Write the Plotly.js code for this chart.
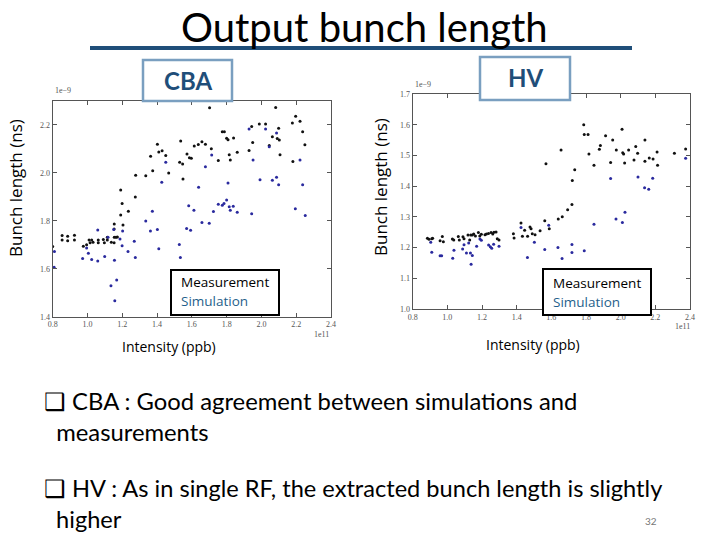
<!DOCTYPE html>
<html>
<head>
<meta charset="utf-8">
<script src="https://cdn.plot.ly/plotly-3.0.1.min.js"></script>
<style>html,body{margin:0;padding:0;background:#fff;}#chart{width:720px;height:540px;}</style>
</head>
<body>
<div id="chart"></div>
<script>
// CBA — intensity (1e11 ppb) and bunch length (1e-9 s)
const cbaMeasX = [0.80,0.854,0.854,0.886,0.886,0.925,0.925,0.976,0.995,1.009,1.015,1.024,1.032,1.062,1.062,1.091,1.097,1.114,1.114,1.137,1.153,1.153,1.154,1.154,1.164,1.172,1.191,1.191,1.199,1.204,1.235,1.275,1.277,1.335,1.363,1.375,1.402,1.410,1.429,1.450,1.467,1.530,1.536,1.547,1.549,1.572,1.586,1.597,1.614,1.637,1.658,1.678,1.702,1.712,1.752,1.775,1.787,1.800,1.808,1.815,1.821,1.840,1.861,1.929,1.944,1.950,1.988,2.024,2.045,2.063,2.082,2.091,2.099,2.103,2.107,2.178,2.181,2.197,2.222,2.237,2.250];
const cbaMeasY = [1.693,1.738,1.720,1.735,1.717,1.739,1.720,1.694,1.700,1.720,1.708,1.720,1.710,1.720,1.708,1.722,1.708,1.731,1.720,1.710,1.708,1.765,1.786,1.731,1.731,1.732,1.824,1.928,1.872,1.782,1.839,1.899,1.989,1.987,2.069,2.008,2.119,2.086,2.092,2.072,1.999,2.044,2.132,2.036,1.974,2.078,2.062,2.060,2.111,2.118,2.129,2.119,2.271,2.100,2.051,2.171,2.171,2.144,2.137,2.075,2.053,2.145,2.085,2.093,2.193,2.126,2.203,2.203,2.113,2.150,2.272,2.143,2.185,2.136,2.075,2.207,2.047,2.235,2.214,2.171,2.117];
const cbaSimX = [0.81,0.808,0.972,0.995,1.005,1.024,1.059,1.059,1.099,1.118,1.135,1.151,1.155,1.157,1.168,1.187,1.199,1.202,1.233,1.269,1.275,1.335,1.362,1.373,1.402,1.410,1.427,1.450,1.528,1.534,1.570,1.582,1.593,1.612,1.639,1.658,1.678,1.700,1.714,1.724,1.752,1.775,1.785,1.800,1.808,1.815,1.821,1.838,1.861,1.929,1.944,1.952,1.992,2.024,2.045,2.063,2.087,2.087,2.099,2.195,2.222,2.237,2.252];
const cbaSimY = [1.672,1.606,1.643,1.686,1.664,1.638,1.761,1.632,1.651,1.731,1.529,1.763,1.635,1.467,1.553,1.724,1.696,1.757,1.672,1.714,1.647,1.799,1.757,1.839,1.763,1.683,1.960,2.044,1.701,1.647,1.768,1.862,1.760,1.844,1.939,1.793,2.025,1.789,2.074,1.838,1.869,1.864,1.872,1.886,1.957,1.858,1.844,1.860,1.835,2.182,1.829,2.053,1.971,2.182,2.108,1.969,2.165,1.981,1.950,1.850,2.053,1.950,1.822];

// HV
const hvMeasX = [0.885,0.894,0.910,0.915,0.958,0.971,0.977,1.029,1.037,1.063,1.069,1.090,1.096,1.119,1.129,1.135,1.144,1.152,1.162,1.179,1.187,1.196,1.217,1.225,1.237,1.252,1.262,1.269,1.281,1.288,1.298,1.381,1.385,1.425,1.433,1.446,1.463,1.477,1.483,1.490,1.506,1.535,1.562,1.569,1.588,1.640,1.656,1.663,1.694,1.719,1.721,1.735,1.787,1.790,1.812,1.817,1.846,1.877,1.883,1.913,1.942,1.954,1.975,2.008,2.012,2.017,2.023,2.046,2.077,2.087,2.098,2.140,2.140,2.165,2.187,2.210,2.213,2.310,2.375];
const hvMeasY = [1.230,1.227,1.229,1.230,1.222,1.236,1.219,1.228,1.225,1.236,1.225,1.235,1.229,1.241,1.225,1.241,1.241,1.244,1.238,1.249,1.238,1.243,1.242,1.244,1.246,1.249,1.244,1.250,1.251,1.229,1.225,1.245,1.231,1.280,1.237,1.256,1.237,1.267,1.261,1.245,1.242,1.255,1.287,1.473,1.261,1.293,1.518,1.300,1.323,1.340,1.418,1.453,1.600,1.568,1.568,1.505,1.468,1.520,1.532,1.564,1.477,1.550,1.518,1.585,1.509,1.505,1.475,1.518,1.485,1.529,1.507,1.550,1.481,1.492,1.488,1.511,1.468,1.507,1.521];
const hvSimX = [0.904,0.910,0.958,0.967,1.031,1.038,1.088,1.096,1.110,1.123,1.133,1.137,1.144,1.169,1.188,1.196,1.238,1.248,1.256,1.267,1.298,1.425,1.462,1.502,1.562,1.585,1.638,1.662,1.719,1.719,1.790,1.846,1.942,1.973,2.010,2.025,2.100,2.138,2.162,2.185,2.375];
const hvSimY = [1.217,1.185,1.173,1.173,1.165,1.191,1.195,1.209,1.182,1.215,1.182,1.146,1.174,1.204,1.228,1.224,1.208,1.203,1.198,1.211,1.204,1.265,1.168,1.217,1.194,1.273,1.200,1.164,1.210,1.184,1.190,1.276,1.425,1.293,1.282,1.315,1.430,1.395,1.390,1.426,1.491];

const xTickVals = [0.8,1.0,1.2,1.4,1.6,1.8,2.0,2.2,2.4];
const cbaYTicks = [1.4,1.6,1.8,2.0,2.2];
const hvYTicks = [1.0,1.1,1.2,1.3,1.4,1.5,1.6,1.7];

const measColor = '#111111';
const simColor = '#2a2a9e';
const mk = c => ({color: c, size: 3, symbol: 'circle'});

const traces = [
  {x: cbaMeasX, y: cbaMeasY, type: 'scatter', mode: 'markers', marker: mk(measColor), xaxis: 'x', yaxis: 'y', name: 'Measurement'},
  {x: cbaSimX, y: cbaSimY, type: 'scatter', mode: 'markers', marker: mk(simColor), xaxis: 'x', yaxis: 'y', name: 'Simulation'},
  {x: hvMeasX, y: hvMeasY, type: 'scatter', mode: 'markers', marker: mk(measColor), xaxis: 'x2', yaxis: 'y2', name: 'Measurement'},
  {x: hvSimX, y: hvSimY, type: 'scatter', mode: 'markers', marker: mk(simColor), xaxis: 'x2', yaxis: 'y2', name: 'Simulation'}
];

const tickFont = {family: 'Liberation Serif, DejaVu Serif, serif', size: 8, color: '#555'};
const axBase = {
  showline: true, linecolor: '#555', linewidth: 1, mirror: 'ticks', ticks: 'inside', ticklen: 4,
  tickcolor: '#555', showgrid: false, zeroline: false, tickfont: tickFont, tickformat: '.1f'
};

const bodyFont = 'Lato, Open Sans, Noto Sans, sans-serif';
const labelFont = 'Open Sans, sans-serif';
const darkBlue = '#1f4e79';

const layout = {
  width: 720, height: 540, showlegend: false,
  margin: {l: 0, r: 0, t: 0, b: 0},
  paper_bgcolor: '#fff', plot_bgcolor: '#fff',
  xaxis: Object.assign({}, axBase, {domain: [0.0732, 0.4597], range: [0.8, 2.4], tickvals: xTickVals, anchor: 'y'}),
  yaxis: Object.assign({}, axBase, {domain: [0.4135, 0.8135], range: [1.4, 2.3], tickvals: cbaYTicks, anchor: 'x'}),
  xaxis2: Object.assign({}, axBase, {domain: [0.5732, 0.9583], range: [0.8, 2.4], tickvals: xTickVals, anchor: 'y2'}),
  yaxis2: Object.assign({}, axBase, {domain: [0.4278, 0.8259], range: [1.0, 1.7], tickvals: hvYTicks, anchor: 'x2'}),
  shapes: [
    {type: 'line', xref: 'paper', yref: 'paper', x0: 90/720, x1: 632/720, y0: 1-48/540, y1: 1-48/540, line: {color: darkBlue, width: 4}},
    {type: 'rect', xref: 'paper', yref: 'paper', x0: 143/720, x1: 232/720, y0: 1-101/540, y1: 1-60/540, line: {color: '#7a9fc0', width: 2.5}, fillcolor: '#fff', layer: 'above'},
    {type: 'rect', xref: 'paper', yref: 'paper', x0: 480/720, x1: 570/720, y0: 1-100/540, y1: 1-57/540, line: {color: '#7a9fc0', width: 2.5}, fillcolor: '#fff', layer: 'above'},
    {type: 'rect', xref: 'paper', yref: 'paper', x0: 171/720, x1: 279/720, y0: 1-315/540, y1: 1-270/540, line: {color: '#000', width: 2}, fillcolor: '#fff', layer: 'above'},
    {type: 'rect', xref: 'paper', yref: 'paper', x0: 543/720, x1: 651/720, y0: 1-315/540, y1: 1-269/540, line: {color: '#000', width: 2}, fillcolor: '#fff', layer: 'above'}
  ],
  annotations: [
    {text: 'Output bunch length', xref: 'paper', yref: 'paper', x: 364/720, y: 1-27/540, showarrow: false, xanchor: 'center', yanchor: 'middle', font: {family: bodyFont, size: 40, color: '#000'}},
    {text: '<b>CBA</b>', xref: 'paper', yref: 'paper', x: 188/720, y: 1-80/540, showarrow: false, xanchor: 'center', yanchor: 'middle', font: {family: bodyFont, size: 24, color: darkBlue}},
    {text: '<b>HV</b>', xref: 'paper', yref: 'paper', x: 525/720, y: 1-78/540, showarrow: false, xanchor: 'center', yanchor: 'middle', font: {family: bodyFont, size: 24, color: darkBlue}},
    {text: 'Bunch length (ns)', xref: 'paper', yref: 'paper', x: 16/720, y: 1-188/540, showarrow: false, textangle: -90, xanchor: 'center', yanchor: 'middle', font: {family: labelFont, size: 17, color: '#000'}},
    {text: 'Bunch length (ns)', xref: 'paper', yref: 'paper', x: 380/720, y: 1-187/540, showarrow: false, textangle: -90, xanchor: 'center', yanchor: 'middle', font: {family: labelFont, size: 17, color: '#000'}},
    {text: 'Intensity (ppb)', xref: 'paper', yref: 'paper', x: 169/720, y: 1-346/540, showarrow: false, xanchor: 'center', yanchor: 'middle', font: {family: labelFont, size: 14, color: '#000'}},
    {text: 'Intensity (ppb)', xref: 'paper', yref: 'paper', x: 533/720, y: 1-344/540, showarrow: false, xanchor: 'center', yanchor: 'middle', font: {family: labelFont, size: 14, color: '#000'}},
    {text: 'Measurement', xref: 'paper', yref: 'paper', x: 225/720, y: 1-282/540, showarrow: false, xanchor: 'center', yanchor: 'middle', font: {family: labelFont, size: 13.5, color: '#000'}},
    {text: 'Simulation', xref: 'paper', yref: 'paper', x: 179/720, y: 1-301/540, showarrow: false, xanchor: 'left', yanchor: 'middle', font: {family: labelFont, size: 13.5, color: '#1f5f8b'}},
    {text: 'Measurement', xref: 'paper', yref: 'paper', x: 597/720, y: 1-283/540, showarrow: false, xanchor: 'center', yanchor: 'middle', font: {family: labelFont, size: 13.5, color: '#000'}},
    {text: 'Simulation', xref: 'paper', yref: 'paper', x: 551/720, y: 1-302/540, showarrow: false, xanchor: 'left', yanchor: 'middle', font: {family: labelFont, size: 13.5, color: '#1f5f8b'}},
    {text: '1e\u22129', xref: 'paper', yref: 'paper', x: 53/720, y: 1-97/540, showarrow: false, xanchor: 'left', yanchor: 'bottom', font: tickFont},
    {text: '1e\u22129', xref: 'paper', yref: 'paper', x: 413/720, y: 1-91/540, showarrow: false, xanchor: 'left', yanchor: 'bottom', font: tickFont},
    {text: '1e11', xref: 'paper', yref: 'paper', x: 331/720, y: 1-328/540, showarrow: false, xanchor: 'right', yanchor: 'top', font: tickFont},
    {text: '1e11', xref: 'paper', yref: 'paper', x: 692/720, y: 1-320/540, showarrow: false, xanchor: 'right', yanchor: 'top', font: tickFont},
    {text: '\u2751 CBA : Good agreement between simulations and<br>  measurements', xref: 'paper', yref: 'paper', x: 42/720, y: 1-416/540, showarrow: false, xanchor: 'left', yanchor: 'middle', align: 'left', font: {family: bodyFont, size: 23.8, color: '#000'}},
    {text: '\u2751 HV : As in single RF, the extracted bunch length is slightly<br>  higher', xref: 'paper', yref: 'paper', x: 42/720, y: 1-503/540, showarrow: false, xanchor: 'left', yanchor: 'middle', align: 'left', font: {family: bodyFont, size: 23.6, color: '#000'}},
    {text: '32', xref: 'paper', yref: 'paper', x: 651/720, y: 1-521/540, showarrow: false, xanchor: 'center', yanchor: 'middle', font: {family: bodyFont, size: 10, color: '#777'}}
  ]
};

Plotly.newPlot('chart', traces, layout, {staticPlot: true, displayModeBar: false});
</script>
</body>
</html>
